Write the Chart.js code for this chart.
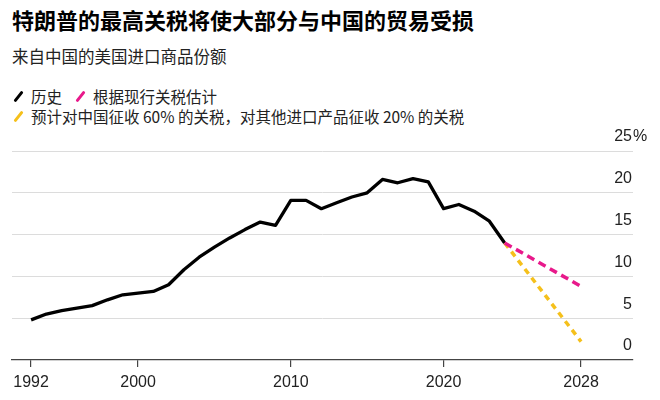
<!DOCTYPE html>
<html lang="zh">
<head>
  <meta charset="UTF-8">
  <title>特朗普的最高关税将使大部分与中国的贸易受损</title>
  <script src="https://cdn.jsdelivr.net/npm/chart.js"></script>
  <style>
    body {
      margin: 0;
      width: 660px;
      height: 400px;
      overflow: hidden;
      background: #fff;
      font-family: "Noto Sans CJK SC", "Noto Sans", sans-serif;
      color: #000;
      position: relative;
    }
    .title {
      position: absolute;
      left: 12px;
      top: 4px;
      font-size: 22px;
      line-height: 30px;
      font-weight: bold;
    }
    .subtitle {
      position: absolute;
      left: 12px;
      top: 44px;
      font-size: 16.5px;
      line-height: 24px;
      color: #222;
    }
    .legend {
      position: absolute;
      left: 12px;
      top: 86px;
      font-size: 15.5px;
      line-height: 20px;
      color: #222;
    }
    .legend .row {
      display: flex;
      align-items: center;
      height: 20px;
    }
    .key {
      display: inline-block;
      width: 3px;
      height: 13px;
      border-radius: 2px;
      transform: rotate(38deg);
      margin: 0 11px 0 5px;
    }
    .gap { width: 12px; }
    #wrap {
      position: absolute;
      left: 0;
      top: 125px;
      width: 660px;
      height: 275px;
    }
  </style>
</head>
<body>
  <div class="title">特朗普的最高关税将使大部分与中国的贸易受损</div>
  <div class="subtitle">来自中国的美国进口商品份额</div>
  <div class="legend">
    <div class="row"><span class="key" style="background:#000"></span>历史<span class="gap"></span><span class="key" style="background:#e8198b"></span>根据现行关税估计</div>
    <div class="row"><span class="key" style="background:#f5c01b"></span>预计对中国征收 60% 的关税，对其他进口产品征收 20% 的关税</div>
  </div>
  <div id="wrap"><canvas id="chart"></canvas></div>

  <script>
    // 美国自中国进口商品占比（%），按年
    const years = [1992, 1993, 1994, 1995, 1996, 1997, 1998, 1999, 2000, 2001,
                   2002, 2003, 2004, 2005, 2006, 2007, 2008, 2009, 2010, 2011,
                   2012, 2013, 2014, 2015, 2016, 2017, 2018, 2019, 2020, 2021,
                   2022, 2023];
    const history = [4.8, 5.5, 5.9, 6.2, 6.5, 7.2, 7.8, 8.0, 8.2, 9.0,
                     10.8, 12.3, 13.5, 14.6, 15.6, 16.5, 16.1, 19.1, 19.1, 18.1,
                     18.8, 19.5, 20.0, 21.6, 21.2, 21.7, 21.3, 18.1, 18.6, 17.8,
                     16.6, 14.0];

    // 预测
    const forecastYears = [2023, 2028];
    const currentTariff = [14.0, 8.8];   // 根据现行关税估计
    const highTariff = [14.0, 2.2];      // 60% / 20% 关税

    // 坐标轴刻度（年度数据标在年末）
    const xTickValues = [1993, 2000, 2010, 2020, 2029];
    const xTickLabels = ['1992', '2000', '2010', '2020', '2028'];
    const yTicks = [0, 5, 10, 15, 20, 25];

    const yearEnd = y => y + 1;
    const toPoints = (xs, vs) => xs.map((y, i) => ({ x: yearEnd(y), y: vs[i] }));

    const tickFont = { family: '"Liberation Sans", Arial, sans-serif', size: 16 };
    const labelShift = -14;

    // 顶部刻度后面的 %
    const percentSign = {
      id: 'percentSign',
      afterDraw(chart) {
        const ys = chart.scales.y;
        const ctx = chart.ctx;
        ctx.save();
        ctx.font = '16px "Liberation Sans", Arial, sans-serif';
        ctx.fillStyle = '#222';
        ctx.textAlign = 'left';
        ctx.textBaseline = 'middle';
        ctx.fillText('%', chart.chartArea.right, ys.getPixelForValue(yTicks[yTicks.length - 1]) + labelShift);
        ctx.restore();
      }
    };

    new Chart(document.getElementById('chart'), {
      type: 'line',
      data: {
        datasets: [
          {
            label: '根据现行关税估计',
            data: toPoints(forecastYears, currentTariff),
            borderColor: '#e8198b',
            borderWidth: 3.5,
            borderDash: [8, 5]
          },
          {
            label: '预计对中国征收 60% 的关税，对其他进口产品征收 20% 的关税',
            data: toPoints(forecastYears, highTariff),
            borderColor: '#f5c01b',
            borderWidth: 3.5,
            borderDash: [6, 5]
          },
          {
            label: '历史',
            data: toPoints(years, history),
            borderColor: '#000',
            borderWidth: 3.3
          }
        ]
      },
      options: {
        responsive: true,
        maintainAspectRatio: false,
        animation: false,
        layout: { padding: { left: 12, right: 27, top: 26, bottom: 0 } },
        elements: {
          point: { radius: 0 },
          line: { tension: 0, borderJoinStyle: 'round', fill: false }
        },
        plugins: {
          legend: { display: false },
          tooltip: { enabled: false }
        },
        scales: {
          x: {
            type: 'linear',
            min: 1991.75,
            max: 2032.4,
            afterBuildTicks: s => { s.ticks = xTickValues.map(v => ({ value: v })); },
            afterFit: s => { s.height = 40; },
            grid: { drawOnChartArea: false, drawTicks: true, tickLength: 7, color: '#444', lineWidth: 1.2 },
            border: { color: '#444', width: 1.2 },
            ticks: {
              font: tickFont,
              color: '#222',
              padding: 6,
              maxRotation: 0,
              autoSkip: false,
              callback: v => xTickLabels[xTickValues.indexOf(v)]
            }
          },
          y: {
            position: 'right',
            min: 0,
            max: 25,
            afterBuildTicks: s => { s.ticks = yTicks.map(v => ({ value: v })); },
            afterFit: s => { s.width = 0; },
            grid: {
              drawTicks: false,
              color: c => c.tick.value === 0 ? 'rgba(0,0,0,0)' : '#dcdcdc',
              lineWidth: 1
            },
            border: { display: false },
            ticks: {
              mirror: true,
              padding: -1,
              labelOffset: labelShift,
              font: tickFont,
              color: '#222'
            }
          }
        }
      },
      plugins: [percentSign]
    });
  </script>
</body>
</html>
